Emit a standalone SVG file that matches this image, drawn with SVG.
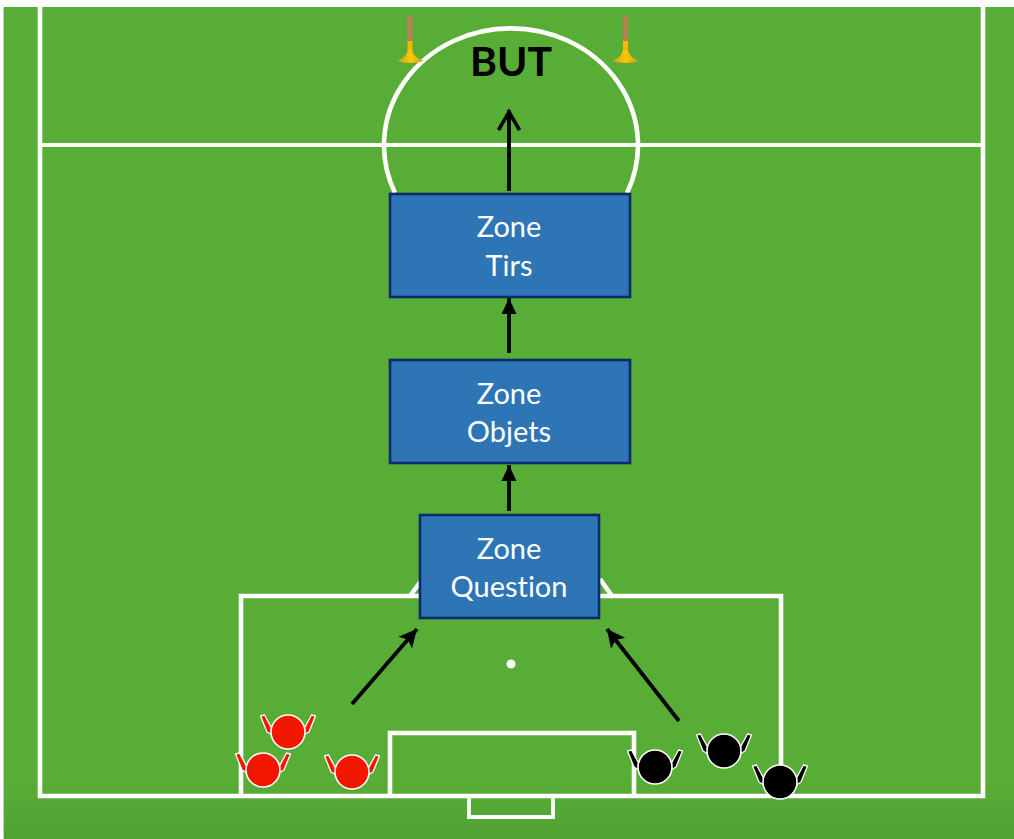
<svg xmlns="http://www.w3.org/2000/svg" width="1014" height="839" viewBox="0 0 1014 839">
<defs>
<linearGradient id="fade" x1="0" y1="0" x2="0" y2="1"><stop offset="0" stop-color="#58ad36"/><stop offset="0.93" stop-color="#58ad36"/><stop offset="1" stop-color="#4fa232"/></linearGradient>
<linearGradient id="cone" x1="0" y1="0" x2="1" y2="0"><stop offset="0" stop-color="#c9a020"/><stop offset="0.5" stop-color="#ffc800"/><stop offset="1" stop-color="#c9a020"/></linearGradient>
<marker id="head" markerUnits="userSpaceOnUse" viewBox="0 0 24 24" refX="21" refY="12" markerWidth="24" markerHeight="24" orient="auto"><path d="M1 1.500L19 12L1 22.500" fill="none" stroke="#000" stroke-width="3.6"/></marker>
<marker id="small" markerUnits="userSpaceOnUse" viewBox="0 0 20 20" refX="17" refY="10" markerWidth="20" markerHeight="20" orient="auto"><path d="M1 2.500L17 10L1 17.500Z" fill="#000"/></marker>
<marker id="solid" markerUnits="userSpaceOnUse" viewBox="0 0 20 20" refX="18" refY="10" markerWidth="20" markerHeight="20" orient="auto"><path d="M0 1L18 10L0 19L4 10Z" fill="#000"/></marker>
<path id="armL" d="M-27.500-16L-23.500-17L-16.500-4L-16 3L-21 0Z"/>
<path id="armR" d="M27.500-16L23.500-17L16.500-4L16 3L21 0Z"/>
</defs>
<style>
.line{fill:none;stroke:#fff;stroke-width:4.6}
.thin{fill:none;stroke:#fff;stroke-width:3.8}
.box{fill:#2e75b6;stroke:#0b2b6b;stroke-width:2.6}
.lbl{font-family:Lato,"Open Sans",sans-serif;font-size:29px;fill:#fff;text-anchor:middle;font-variant-ligatures:none}
.conn{stroke:#000;stroke-width:3.8;fill:none}
.head{stroke:#fff;stroke-width:1.6}
.arm{stroke:#fff;stroke-width:1.3;stroke-linejoin:round}
.red{fill:#f31700}
.blk{fill:#000}
</style>
<rect width="1014" height="839" fill="#fff"/>
<rect x="3" y="7" width="1011" height="832" fill="url(#fade)"/>
<rect x="3" y="7" width="1" height="832" fill="#c9c9c9"/>
<g id="pitch">
<path class="line" d="M40 7V796H983V7"/>
<path class="thin" d="M40 145H983"/>
<path class="line" d="M241 796V596H420M600 596H781V796"/>
<path class="line" d="M390 796V733H634V796"/>
<path class="thin" d="M469 797V817H553V797"/>
<path class="line" d="M395 193A127 117 0 1 1 627 193"/>
<path class="line" d="M410 596L421 581M612 596L600 579"/>
<circle cx="511" cy="664" r="4.500" fill="#fff"/>
</g>
<g id="poteau-gauche">
<rect x="407.500" y="16" width="5" height="26" fill="#b77f52"/><rect x="407.500" y="41" width="5" height="14" fill="#f2b900"/>
<path d="M397 61Q406 58 408 50H412Q414 58 424 61Q411 65 397 61Z" fill="url(#cone)"/>
</g>
<g id="poteau-droit">
<rect x="623" y="16" width="5" height="25" fill="#b77f52"/><rect x="623" y="41" width="5" height="14" fill="#f2b900"/>
<path d="M612 61Q621 58 623 50H628Q630 58 639 61Q626 65 612 61Z" fill="url(#cone)"/>
</g>
<text id="but" x="511" y="76" font-family="Lato,'Open Sans',sans-serif" font-size="41" font-weight="700" fill="#000" text-anchor="middle">BUT</text>
<g id="connectors">
<path class="conn" d="M509 191V110" marker-end="url(#head)"/>
<path class="conn" d="M509 353V298" marker-end="url(#small)"/>
<path class="conn" d="M509 511V465" marker-end="url(#small)"/>
<path class="conn" d="M352 704L417 629" marker-end="url(#solid)"/>
<path class="conn" d="M679 721L607 629" marker-end="url(#solid)"/>
</g>
<g id="zone-tirs"><rect class="box" x="390" y="194" width="240" height="103"/><text class="lbl" x="509" y="237">Zone</text><text class="lbl" x="509" y="276">Tirs</text></g>
<g id="zone-objets"><rect class="box" x="390" y="360" width="240" height="103"/><text class="lbl" x="509" y="404">Zone</text><text class="lbl" x="509" y="442">Objets</text></g>
<g id="zone-question"><rect class="box" x="420" y="515" width="179" height="103"/><text class="lbl" x="509" y="559">Zone</text><text class="lbl" x="509" y="597">Question</text></g>
<g id="rouge-1" class="red" transform="translate(288 732)"><use class="arm" href="#armL"/><use class="arm" href="#armR"/><circle class="head" r="17"/></g>
<g id="rouge-2" class="red" transform="translate(263 770)"><use class="arm" href="#armL"/><use class="arm" href="#armR"/><circle class="head" r="17"/></g>
<g id="rouge-3" class="red" transform="translate(352 772)"><use class="arm" href="#armL"/><use class="arm" href="#armR"/><circle class="head" r="17"/></g>
<g id="noir-1" class="blk" transform="translate(655 767)"><use class="arm" href="#armL"/><use class="arm" href="#armR"/><circle class="head" r="17"/></g>
<g id="noir-2" class="blk" transform="translate(724 751)"><use class="arm" href="#armL"/><use class="arm" href="#armR"/><circle class="head" r="17"/></g>
<g id="noir-3" class="blk" transform="translate(780 782)"><use class="arm" href="#armL"/><use class="arm" href="#armR"/><circle class="head" r="17"/></g>
</svg>
